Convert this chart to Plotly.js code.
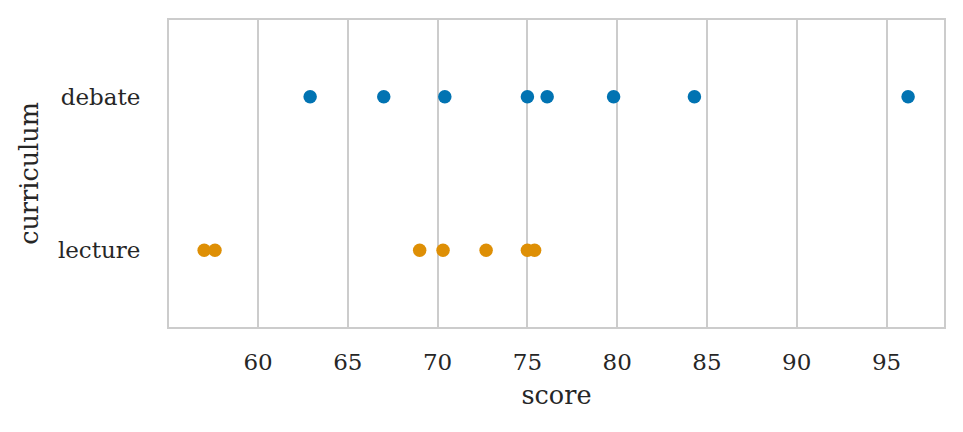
<!DOCTYPE html>
<html>
<head>
<meta charset="utf-8">
<script src="https://cdn.plot.ly/plotly-3.0.1.min.js"></script>
<style>html,body{margin:0;padding:0;background:#fff;}#chart{width:963px;height:432px;}</style>
</head>
<body>
<div id="chart"></div>
<script>
const categories = ["debate", "lecture"];
const debateScores = [62.9, 67.0, 70.4, 75.0, 76.1, 79.8, 84.3, 96.2];
const lectureScores = [57.0, 57.6, 69.0, 70.3, 72.7, 75.0, 75.4];
const xTicks = [60, 65, 70, 75, 80, 85, 90, 95];
const colors = ["#0173b2", "#de8f05"];

const series = [debateScores, lectureScores];
const traces = categories.map((c, i) => ({
  type: "scatter",
  mode: "markers",
  x: series[i],
  y: series[i].map(() => c),
  marker: {color: colors[i], size: 13.5, line: {width: 0}},
  name: c,
  showlegend: false
}));

const font = {family: "DejaVu Serif, serif", color: "#262626"};
const layout = {
  width: 963, height: 432,
  margin: {l: 169, r: 19, t: 20, b: 105},
  paper_bgcolor: "#ffffff", plot_bgcolor: "#ffffff",
  font: Object.assign({size: 23}, font),
  xaxis: {
    range: [55.04, 98.2],
    tickvals: xTicks, ticktext: xTicks.map(String),
    showgrid: true, gridcolor: "#cccccc", gridwidth: 2,
    zeroline: false,
    showline: true, linecolor: "#cccccc", linewidth: 2, mirror: true,
    ticks: "outside", ticklen: 13, tickcolor: "rgba(0,0,0,0)",
    tickfont: Object.assign({size: 23}, font),
    title: {text: "score", font: Object.assign({size: 25.5}, font), standoff: 13}
  },
  yaxis: {
    type: "category",
    categoryorder: "array", categoryarray: ["lecture", "debate"],
    range: [-0.5, 1.5],
    showgrid: false, zeroline: false,
    showline: true, linecolor: "#cccccc", linewidth: 2, mirror: true,
    ticks: "outside", ticklen: 22, tickcolor: "rgba(0,0,0,0)",
    tickfont: Object.assign({size: 23}, font),
    title: {text: "curriculum", font: Object.assign({size: 25.5}, font), standoff: 12}
  }
};

Plotly.newPlot("chart", traces, layout, {displayModeBar: false, staticPlot: true});
</script>
</body>
</html>
